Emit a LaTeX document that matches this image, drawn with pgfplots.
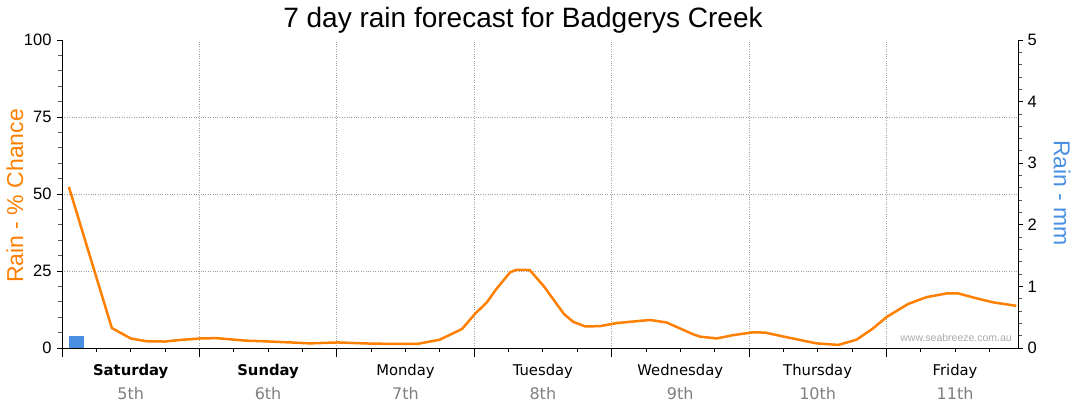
\documentclass[border=0pt]{standalone}
\usepackage{fontspec}
\setmainfont{Liberation Sans}
\newfontfamily\dejavu{DejaVu Sans}
\usepackage{pgfplots}
\pgfplotsset{compat=1.18}
\definecolor{rainorange}{RGB}{255,127,0}
\definecolor{rainblue}{RGB}{74,144,226}
\definecolor{gridgray}{RGB}{160,160,160}
\definecolor{dategray}{RGB}{128,128,128}
\definecolor{wmgray}{RGB}{170,170,170}
\pgfplotsset{base/.style={scale only axis, width=956bp, height=308bp,
  at={(62bp,66bp)}, anchor=south west, xmin=0, xmax=167,
  /pgf/number format/assume math mode=true, tick align=outside,
  axis line style={-, black, line width=0.8bp},
  every tick/.style={black, line width=0.8bp},
  tick label style={font=\fontsize{16.5bp}{16.5bp}\selectfont}},
  labelaxis/.style={base, ymin=0, ymax=100, ytick=\empty,
  axis line style={draw=none}, major tick length=0pt, xtick={12,36,...,156}}}
\begin{document}
\begin{tikzpicture}
\path[use as bounding box] (0,0) rectangle (1080bp,414bp);
% grid + x axis
\begin{axis}[base, ymin=0, ymax=100, axis x line*=bottom, axis y line*=left,
  xtick={0,24,...,144}, xticklabels={}, minor xtick={6,12,...,162},
  major tick length=9bp, minor tick length=4bp,
  xmajorgrids, ymajorgrids, ytick={25,50,75}, yticklabels={},
  ytick style={draw=none},
  grid style={dotted, gridgray, line width=0.7bp}]
\end{axis}
% day names
\begin{axis}[labelaxis,
  xticklabels={\textbf{Saturday},\textbf{Sunday},Monday,Tuesday,Wednesday,Thursday,Friday},
  xticklabel style={font=\dejavu\fontsize{14.8bp}{15bp}\selectfont, anchor=base, yshift=-28bp}]
\end{axis}
% dates
\begin{axis}[labelaxis,
  xticklabels={5th,6th,7th,8th,9th,10th,11th},
  xticklabel style={font=\dejavu\fontsize{16bp}{16bp}\selectfont, text=dategray, anchor=base, yshift=-51bp}]
\end{axis}
% left axis with line
\begin{axis}[base, ymin=0, ymax=100, axis y line*=left, axis x line=none,
  ytick={0,25,...,100}, minor y tick num=4, major tick length=5bp, minor tick length=4bp,
  minor tick style={gray!70!black},
  yticklabel style={xshift=-2bp},
  ylabel={Rain - \% Chance},
  ylabel style={at={(axis description cs:-0.0492,0.494)}, anchor=center, rainorange, font=\fontsize{23bp}{23bp}\selectfont}]
\addplot[rainorange, line width=2.5bp, line join=round] coordinates {
(1.2,52.3) (8.7,6.5) (12,3.1) (14.7,2.2) (18,2.1) (20.6,2.6) (24.1,3.1) (27,3.2)
(32,2.4) (35,2.2) (40,1.8) (43.3,1.5) (48.2,1.8) (54.3,1.4) (62,1.3) (66,2.7)
(69.9,6.2) (72.1,11) (74.2,14.8) (75.9,19.2) (78.3,24.6) (79.4,25.4) (81.7,25.3)
(84.1,20.2) (87.7,11) (89.3,8.5) (91.4,7.0) (94,7.1) (96.9,8.1) (102.7,9.1)
(105.6,8.3) (110.2,4.5) (111.4,3.7) (114.4,3.1) (117.3,4.2) (120.8,5.1) (122.8,5.0)
(126.6,3.5) (131.8,1.5) (135.6,1.0) (138.8,2.7) (141.7,6.4) (144,10) (147.8,14.3)
(151,16.5) (154.5,17.7) (156.6,17.7) (159.8,16.1) (162.7,14.8) (166.7,13.7)};
\end{axis}
% right axis with bar
\begin{axis}[base, ymin=0, ymax=5, axis y line*=right, axis x line=none,
  ytick={0,...,5}, minor y tick num=4, major tick length=5bp, minor tick length=4bp,
  minor tick style={gray!70!black},
  yticklabel style={xshift=1bp},
  ylabel={Rain - mm},
  ylabel style={at={(axis description cs:1.046,0.503)}, anchor=center, rotate=180, rainblue, font=\fontsize{23bp}{23bp}\selectfont}]
\addplot[ybar, bar width=15bp, fill=rainblue, draw=none] coordinates {(2.53,0.2)};
\end{axis}
\node[anchor=base, font=\fontsize{28bp}{28bp}\selectfont] at (523bp,386bp) {7 day rain forecast for Badgerys Creek};
\node[anchor=east, font=\fontsize{10.5bp}{10.5bp}\selectfont, text=wmgray, inner sep=0pt] at (1012bp,76bp) {www.seabreeze.com.au};
\end{tikzpicture}
\end{document}
